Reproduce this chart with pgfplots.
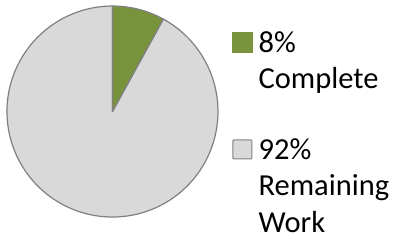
\documentclass[border=0pt]{standalone}
\usepackage{pgfplots}
\pgfplotsset{compat=1.18}
\usepackage{pgfplotstable}
\usepackage{fontspec}
\setmainfont{Carlito}
\definecolor{pieGreen}{HTML}{77933C}
\definecolor{pieGrey}{HTML}{D9D9D9}
\definecolor{pieEdge}{HTML}{808080}
\pgfplotstableread{
label share
Complete 8
Remaining 92
}\piedata
\begin{document}
\begin{tikzpicture}
\pgfplotstablegetelem{0}{share}\of\piedata
\pgfmathsetmacro\angA{90-3.6*\pgfplotsretval}
\begin{axis}[
  x=105.5pt, y=105.5pt,
  xmin=-1.066, xmax=2.725, ymin=-1.246, ymax=1.057,
  hide axis, clip=false,
  legend style={at={(axis cs:1.133,0.762)}, anchor=north west, draw=none, fill=none,
    inner sep=0pt, row sep=48.5pt, column sep=6pt,
    font=\fontsize{30.5}{36.5}\selectfont,
    nodes={align=left, inner sep=0pt, anchor=base west}},
]
\path (rel axis cs:0,0) (rel axis cs:1,1);
\addplot[fill=pieGrey, draw=pieEdge, line width=1.2pt, line join=round,
  domain=-270:\angA, samples=150, variable=\t, forget plot]
  ({cos(\t)},{sin(\t)}) -- (axis cs:0,0) -- cycle;
\addplot[fill=pieGreen, draw=pieEdge, line width=1.2pt, line join=round,
  domain=\angA:90, samples=20, variable=\t, forget plot]
  ({cos(\t)},{sin(\t)}) -- (axis cs:0,0) -- cycle;
\addlegendimage{legend image code/.code={\fill[pieGreen] (0pt,36.5pt) rectangle (20pt,56.5pt);}}
\addlegendentry{8\%\\Complete}
\addlegendimage{legend image code/.code={\filldraw[fill=pieGrey, draw=pieEdge, line width=1pt, rounded corners=1pt] (0.5pt,73.5pt) rectangle (19.5pt,92.5pt);}}
\addlegendentry{92\%\\Remaining\\Work}
\end{axis}
\end{tikzpicture}
\end{document}
